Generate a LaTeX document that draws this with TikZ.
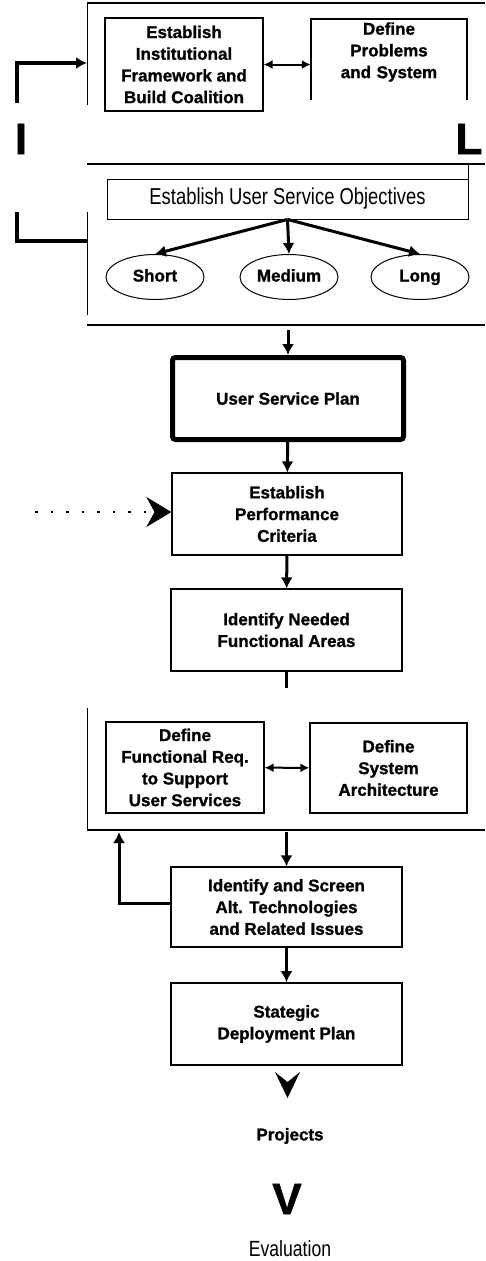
\documentclass[tikz,border=0pt]{standalone}
\usepackage{fontspec}
\setmainfont{Liberation Sans}[BoldFeatures={FakeBold=1.2}]
\usepackage{graphicx}
\usepackage{tikz}
\usetikzlibrary{arrows,arrows.meta,positioning,shapes.geometric}

\begin{document}
\begin{tikzpicture}[x=1pt,y=-1pt,
  box/.style={rectangle,draw=black,line width=1.2pt,inner sep=0pt,align=center,
    font=\bfseries\fontsize{17}{21.7}\selectfont},
  oval/.style={ellipse,draw=black,line width=1pt,minimum width=98pt,minimum height=45pt,
    inner sep=0pt,text height=12pt,text depth=3pt,font=\bfseries\fontsize{17}{20}\selectfont},
  frame/.style={line width=2.2pt},
  thin/.style={line width=0.9pt},
  arr/.style={line width=3pt,-{Latex[length=11pt,width=12pt]}},
  dbl/.style={line width=2pt,{Latex[length=9pt,width=9pt]}-{Latex[length=9pt,width=9pt]}},
  big/.style={inner sep=0pt,font=\bfseries\fontsize{44}{44}\selectfont}]

\useasboundingbox (0,0) rectangle (485,1261);

% first stage
\draw[frame] (87,3) -- (485,3);
\draw[thin] (87,3) -- (87,105);
\node[box,minimum width=158pt,minimum height=93pt] (ibc) at (184,64.5) {Establish\\Institutional\\Framework and\\Build Coalition};
\node[inner sep=0pt,text width=156pt,align=center,font=\bfseries\fontsize{17}{21.7}\selectfont] (dps) at (389,52) {Define\\Problems\\and System};
\draw[line width=1.2pt] (311,100) |- (467,19) -- (467,100);
\draw[dbl] (ibc.east) -- (ibc.east -| dps.west);
\draw[frame] (87,164) -- (485,164);

\node[big] (li) at (21,139) {I};
\node[big] (ll) at (469,139) {L};

% objectives
\node[box,line width=0.9pt,minimum width=361pt,minimum height=40pt,font=\fontsize{23}{26}\selectfont] (uso) at (287.5,199) {\scalebox{0.8}[1]{Establish User Service Objectives}};
\draw[thin] (uso.north east) -- (uso.north east |- 0,164);
\node[oval] (short) at (155,277) {Short};
\node[oval] (medium) at (289,277) {Medium};
\node[oval] (long) at (420,277) {Long};
\draw[arr] (uso.south) -- (short.north);
\draw[arr] (uso.south) -- (medium.north);
\draw[arr] (uso.south) -- (long.north);
\draw[thin] (87,212) -- (87,315);
\draw[frame] (87,325) -- (485,325);

% feedback loop on the left
\coordinate (lp1) at (87,241);
\coordinate (lp2) at (17,212);
\coordinate (lp3) at (17,103);
\coordinate (lp4) at (87,63);
\draw[line width=3.5pt] (lp1) -| (lp2);
\draw[arr,line width=3.5pt] (lp3) |- (lp4);

% plan and criteria
\coordinate (f2) at (288,330);
\node[box,line width=5pt,rounded corners=3pt,minimum width=231pt,minimum height=82pt] (usp) at (288,398.5) {User Service Plan};
\draw[arr] (f2) -- (usp);
\node[box,minimum width=230pt,minimum height=82pt] (epc) at (287,514) {Establish\\Performance\\Criteria};
\draw[arr] (usp) -- (epc);
\coordinate (dt) at (35,512);
\draw[line width=2pt,dash pattern=on 2.5pt off 13pt,-{Stealth[length=25pt,width=30pt]}] (dt) -- (dt -| epc.west);
\node[box,minimum width=231pt,minimum height=82pt] (infa) at (286.5,630) {Identify Needed\\Functional Areas};
\draw[arr] (epc) -- (infa);
\coordinate (nf) at (286.5,688);
\draw[line width=3.5pt] (infa) -- (nf);

% requirements and architecture
\draw[thin] (87,708) -- (87,830);
\draw[frame] (87,830) -- (485,830);
\node[box,minimum width=158pt,minimum height=91pt] (dfr) at (185,767.5) {Define\\Functional Req.\\to Support\\User Services};
\node[box,minimum width=157pt,minimum height=90pt] (dsa) at (388.5,768) {Define\\System\\Architecture};
\draw[dbl] (dfr) -- (dsa);

% technologies and deployment
\coordinate (f3) at (286.5,832);
\node[box,minimum width=231pt,minimum height=80pt] (isat) at (286.5,907) {Identify and Screen\\Alt. Technologies\\and Related Issues};
\draw[arr] (f3) -- (isat);
\coordinate (fr3) at (119,832);
\draw[arr] ([yshift=4pt]isat.west) -| (fr3);
\node[box,line width=1.6pt,minimum width=231pt,minimum height=82pt] (sdp) at (286.5,1024) {Stategic\\Deployment Plan};
\draw[arr] (isat) -- (sdp);

\fill (275,1072) -- (287.5,1098) -- (300,1072) -- (287.5,1082) -- cycle;
\node[font=\bfseries\fontsize{17}{20}\selectfont] (proj) at (290,1136) {Projects};
\node[big] (vv) at (287,1199) {V};
\node[inner sep=0pt,font=\fontsize{22}{24}\selectfont] (eval) at (290,1249) {\scalebox{0.8}[1]{Evaluation}};
\end{tikzpicture}
\end{document}
